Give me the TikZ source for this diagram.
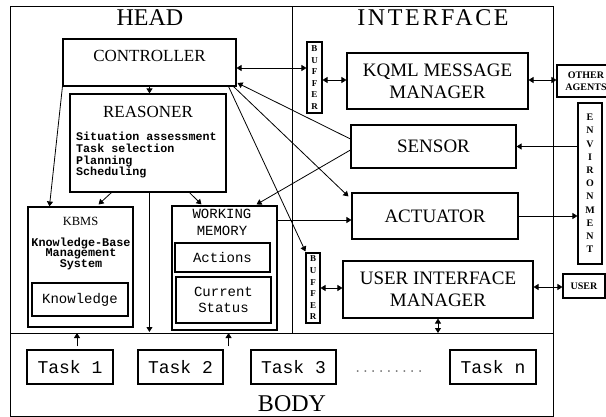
\documentclass[tikz,border=0pt]{standalone}
\usepackage{fontspec}
\setmainfont{Liberation Serif}
\setmonofont{Liberation Mono}
\usetikzlibrary{arrows.meta,calc}
\begin{document}
\begin{tikzpicture}[x=1pt,y=-1pt,
  region/.style={draw,line width=0.9pt,inner sep=0pt,anchor=north west},
  box/.style={draw,line width=1.1pt,inner sep=0pt,align=center},
  arr/.style={line width=0.8pt,-{Triangle[length=5pt,width=6pt]}},
  darr/.style={line width=0.8pt,{Triangle[length=5pt,width=6pt]}-{Triangle[length=5pt,width=6pt]}},
  ttl/.style={font=\fontsize{24}{24}\selectfont,inner sep=0pt},
  big/.style={font=\fontsize{17}{17}\selectfont,inner sep=0pt},
  ifc/.style={font=\fontsize{19}{22}\selectfont},
  mono/.style={font=\ttfamily\bfseries\fontsize{11.7}{11.7}\selectfont,inner sep=0pt},
  monok/.style={font=\ttfamily\bfseries\fontsize{11.8}{10.5}\selectfont,inner sep=0pt,align=center},
  mid/.style={font=\ttfamily\fontsize{14}{16.5}\selectfont,align=center},
  task/.style={font=\ttfamily\fontsize{18}{18}\selectfont},
  buf/.style={font=\bfseries\fontsize{9}{11.6}\selectfont},
  envf/.style={font=\bfseries\fontsize{10}{13.2}\selectfont},
  small/.style={font=\bfseries\fontsize{10}{12}\selectfont}
]
\useasboundingbox (0,0) rectangle (606,417);
% regions
\node[region,minimum width=282pt,minimum height=327pt] (head) at (10,6) {};
\node[region,minimum width=261pt,minimum height=327pt] (intf) at (292,6) {};
\node[region,minimum width=543pt,minimum height=83pt] (body) at (10,333) {};
\node[ttl] (headT) at (150,18) {HEAD};
\node[ttl] (intfT) at (433,18) {\addfontfeature{LetterSpace=11}INTERFACE};
\node[ttl] (bodyT) at (292,404) {BODY};
% head
\node[box,minimum width=173pt,minimum height=47pt] (ctrl) at (149.5,62.5) {};
\node[big] (ctrlT) at (149.5,56) {CONTROLLER};
\node[box,minimum width=156pt,minimum height=98pt] (reas) at (148,143) {};
\node[big] (reasT) at (148,111.5) {REASONER};
\node[mono,anchor=north west,align=left] (reasL) at (76,132) {Situation assessment\\Task selection\\Planning\\Scheduling};
\node[box,minimum width=105pt,minimum height=120pt] (kbms) at (80.5,267) {};
\node[font=\fontsize{12.5}{12.5}\selectfont,inner sep=0pt] (kbmsT) at (80.5,221.5) {KBMS};
\node[monok] (kbmsL) at (81,253.5) {Knowledge-Base\\Management\\System};
\node[box,minimum width=96pt,minimum height=33pt,font=\ttfamily\fontsize{14}{14}\selectfont] (know) at (80,299.5) {Knowledge};
\node[box,minimum width=105pt,minimum height=124pt] (wm) at (224.5,268) {};
\node[mid,inner sep=0pt] (wmT) at (222,222.5) {WORKING\\MEMORY};
\node[box,minimum width=95pt,minimum height=29pt,mid] (acts) at (222.5,257.5) {Actions};
\node[box,minimum width=95pt,minimum height=46pt,mid] (cur) at (223.5,300) {Current\\Status};
% interface
\node[box,minimum width=15pt,minimum height=71pt,buf] (buf1) at (314.5,77.5) {B\\U\\F\\F\\E\\R};
\node[box,minimum width=181pt,minimum height=56pt,ifc] (kqml) at (437.5,81) {KQML MESSAGE\\MANAGER};
\node[box,minimum width=58pt,minimum height=32pt,small] (oth) at (586,81) {OTHER\\AGENTS};
\node[box,minimum width=165pt,minimum height=43pt,ifc] (sens) at (433.5,146.5) {SENSOR};
\node[box,minimum width=24pt,minimum height=161pt,envf] (env) at (590,183.5) {E\\N\\V\\I\\R\\O\\N\\M\\E\\N\\T};
\node[box,minimum width=166pt,minimum height=46pt,ifc] (actu) at (435,216) {ACTUATOR};
\node[box,minimum width=14pt,minimum height=70pt,buf] (buf2) at (313,288) {B\\U\\F\\F\\E\\R};
\node[box,minimum width=190pt,minimum height=57pt,ifc] (uim) at (438,289.5) {USER INTERFACE\\MANAGER};
\node[box,minimum width=42pt,minimum height=24pt,small] (user) at (584,286) {USER};
% body
\node[box,minimum width=86pt,minimum height=34pt,task] (t1) at (70,367) {Task 1};
\node[box,minimum width=85pt,minimum height=34pt,task] (t2) at (180.5,367) {Task 2};
\node[box,minimum width=85pt,minimum height=34pt,task] (t3) at (293.5,367) {Task 3};
\node[font=\ttfamily\fontsize{13}{13}\selectfont,text=gray,inner sep=0pt] (dots) at (389,371.5) {.........};
\node[box,minimum width=86pt,minimum height=34pt,task] (tn) at (493,367) {Task n};
% connectors
\draw[arr] (ctrl.south) -- (ctrl.south |- reas.north);
\draw[arr] (ctrl.south west) -- ($(kbms.north west)+(22,0)$);
\draw[arr] ($(reas.south west)+(42,0)$) -- ($(kbms.north east)+(-35,-2)$);
\draw[arr] ($(reas.south west)+(120,0)$) -- ($(wm.north west)+(30,-1)$);
\coordinate (rb) at ($(reas.south west)+(80,0)$);
\draw[arr] (rb) -- ($(rb |- body.north)+(0,-1)$);
\draw[darr] ($(ctrl.east)+(0,5.5)$) -- ($(buf1.west)+(0,-9.5)$);
\draw[darr] ($(buf1.east)+(0,2.5)$) -- ($(kqml.west)+(0,-1)$);
\draw[darr] ($(kqml.east)+(0,-1)$) -- ($(oth.west)+(0,-1)$);
\draw[arr] ($(sens.west)+(0,-7.5)$) -- ($(ctrl.east)+(1,20.5)$);
\draw[arr] ($(sens.west)+(0,3.5)$) -- ($(wm.north east)+(-21,-1)$);
\draw[arr] ($(ctrl.south east)+(-3,0)$) -- ($(actu.north west)+(-3,4)$);
\draw[arr] ($(ctrl.south east)+(-8,0)$) -- ($(buf2.north west)+(0,-1)$);
\draw[arr] ($(wm.east)+(0,-48)$) -- ($(actu.west)+(0,4)$);
\draw[arr] (env.west |- sens.east) -- (sens.east);
\draw[arr] (actu.east) -- (actu.east -| env.west);
\draw[darr] (buf2.east) -- (buf2.east -| uim.west);
\draw[darr] ($(uim.east)+(0,-2.5)$) -- ($(user.west)+(0,1)$);
\draw[darr] (uim.south) -- (uim.south |- body.north);
\coordinate (a1) at ($(t1.north)+(7,-3)$);
\draw[arr] (a1) -- (a1 |- body.north);
\coordinate (a2) at ($(t2.north east)+(5,-3)$);
\draw[arr] (a2) -- (a2 |- body.north);
\end{tikzpicture}
\end{document}
